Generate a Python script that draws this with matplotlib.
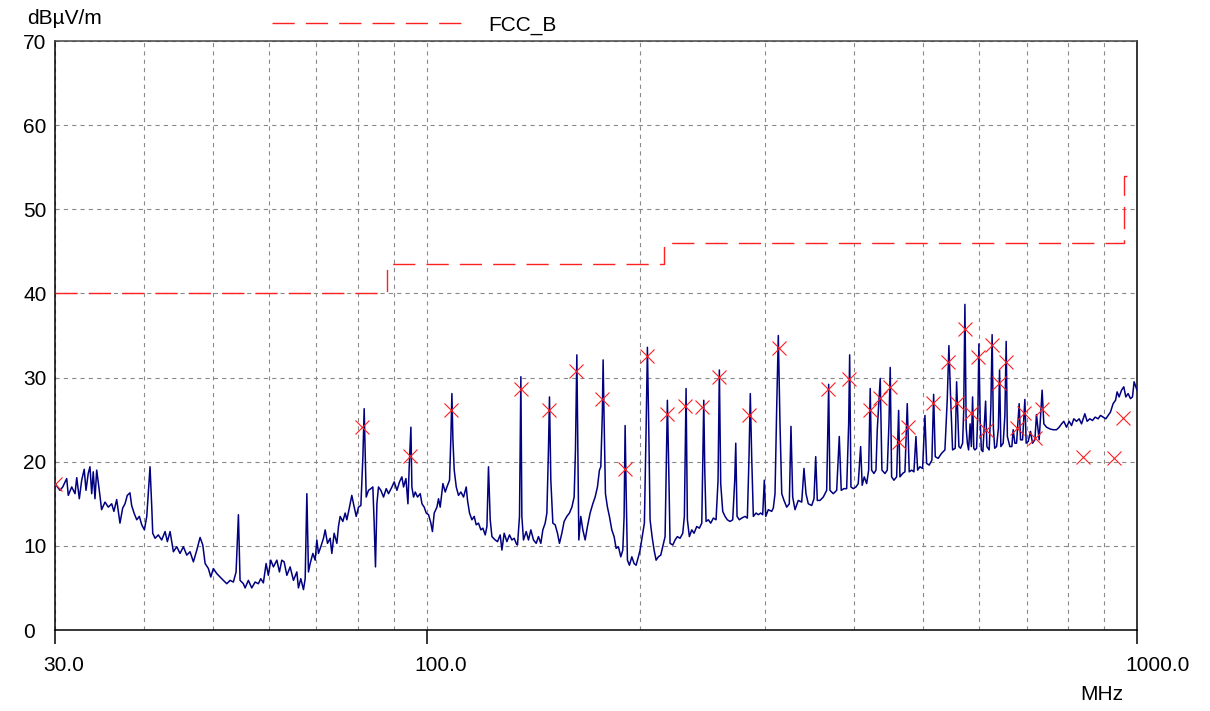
import numpy as np
import matplotlib
matplotlib.use("Agg")
import matplotlib.pyplot as plt
import matplotlib.transforms as mtransforms

plt.rcParams['font.family'] = ['Liberation Sans', 'DejaVu Sans']
plt.rcParams['lines.scale_dashes'] = False

# measured trace (MHz, dBuV/m)
trace_freq = [
    30.00, 30.49, 30.76, 31.16, 31.32, 31.67, 32.01, 32.19, 32.46, 32.71, 32.98, 33.17, 33.41, 33.60,
    33.79, 33.96, 34.15, 34.34, 34.63, 34.89, 35.28, 35.66, 36.05, 36.31, 36.64, 37.03, 37.36, 37.64,
    37.92, 38.25, 38.46, 38.76, 39.10, 39.43, 39.74, 40.08, 40.39, 40.65, 40.82, 41.05, 41.18, 41.49,
    41.93, 42.39, 42.86, 43.18, 43.56, 44.03, 44.51, 44.99, 45.48, 45.98, 46.47, 46.98, 47.50, 48.01,
    48.43, 48.80, 49.32, 49.70, 50.12, 50.68, 51.22, 51.77, 52.35, 52.91, 53.48, 53.95, 54.36, 54.65,
    55.24, 55.55, 56.14, 56.76, 57.38, 57.99, 58.44, 58.94, 59.46, 59.90, 60.37, 60.89, 61.57, 62.09,
    62.56, 63.04, 63.60, 64.28, 64.97, 65.69, 66.03, 66.54, 67.12, 67.49, 67.86, 68.21, 68.59, 69.19,
    69.71, 70.09, 70.46, 71.00, 71.61, 72.01, 72.55, 73.18, 73.58, 74.13, 74.79, 75.18, 75.59, 76.25,
    76.83, 77.25, 77.91, 78.50, 78.93, 79.63, 80.22, 80.84, 81.37, 81.71, 81.98, 82.25, 82.86, 83.50,
    84.04, 84.40, 84.76, 85.15, 85.59, 86.25, 87.00, 87.76, 88.42, 89.40, 90.06, 90.86, 91.62, 92.33,
    92.83, 93.55, 94.16, 94.55, 95.07, 95.37, 95.89, 96.42, 97.14, 97.99, 98.54, 99.26, 99.91, 100.66,
    101.43, 101.94, 102.53, 103.44, 103.97, 104.54, 105.46, 106.26, 106.84, 107.75, 108.23, 108.58,
    108.94, 109.40, 110.12, 110.93, 111.79, 112.75, 113.74, 114.22, 114.96, 115.86, 116.71, 117.48,
    118.35, 119.27, 120.05, 120.96, 121.63, 122.25, 122.93, 123.62, 124.94, 125.88, 126.97, 127.69,
    128.62, 129.76, 130.86, 131.86, 132.86, 133.73, 134.30, 135.17, 135.77, 136.21, 136.93, 138.14,
    139.16, 140.24, 141.44, 142.68, 143.74, 144.85, 145.80, 146.90, 147.71, 148.47, 148.96, 149.62,
    150.60, 151.74, 152.88, 153.86, 155.05, 156.21, 157.59, 158.92, 160.18, 161.36, 162.05, 162.78,
    163.31, 163.83, 164.88, 165.97, 167.22, 168.47, 169.94, 171.42, 172.72, 174.02, 175.14, 175.92,
    176.80, 177.25, 177.82, 178.59, 179.75, 180.91, 182.30, 183.67, 184.88, 186.25, 187.69, 188.92,
    189.72, 190.35, 190.97, 191.78, 193.01, 194.54, 195.96, 197.25, 198.71, 199.80, 201.56, 202.61,
    203.74, 204.60, 205.52, 206.38, 207.72, 209.09, 210.45, 212.01, 213.65, 215.05, 216.67, 217.58,
    218.29, 219.27, 220.19, 222.12, 223.80, 225.48, 227.44, 229.44, 230.64, 231.92, 232.90, 234.41,
    236.26, 237.99, 240.09, 242.12, 244.03, 244.79, 245.60, 246.40, 247.44, 249.28, 251.20, 253.36,
    255.59, 257.24, 258.33, 259.47, 261.17, 263.14, 265.11, 267.42, 269.77, 271.54, 272.43, 273.58,
    275.61, 277.72, 280.75, 282.86, 284.40, 285.58, 286.87, 288.41, 290.94, 293.10, 295.37, 297.29,
    298.85, 300.22, 302.75, 306.06, 307.70, 309.40, 311.10, 312.71, 314.43, 316.21, 318.54, 321.35,
    324.06, 325.82, 327.65, 330.11, 333.64, 337.37, 339.84, 342.08, 344.62, 348.47, 351.04, 353.01,
    354.84, 357.92, 361.79, 365.79, 368.16, 369.70, 373.70, 377.84, 381.03, 383.47, 386.86, 390.27,
    392.80, 394.08, 395.71, 398.71, 402.21, 405.20, 408.33, 410.41, 413.16, 416.39, 419.08, 421.23,
    423.14, 426.33, 429.13, 430.95, 435.10, 437.50, 441.83, 445.14, 447.57, 449.43, 451.46, 454.86,
    458.88, 461.85, 463.79, 467.85, 471.39, 474.93, 477.99, 481.76, 485.30, 488.49, 491.19, 494.82,
    499.17, 502.94, 505.71, 509.98, 514.44, 517.32, 520.02, 525.06, 530.80, 536.60, 540.62, 543.58,
    546.53, 550.10, 554.81, 557.31, 561.47, 564.51, 568.22, 570.28, 572.51, 574.92, 577.15, 579.38,
    582.19, 584.59, 586.92, 589.22, 591.35, 594.60, 597.15, 599.04, 601.52, 603.83, 606.85, 612.22,
    614.79, 619.37, 622.73, 625.30, 627.84, 630.55, 634.40, 638.12, 640.58, 643.23, 648.12, 651.70,
    654.44, 656.98, 662.29, 666.59, 669.45, 673.15, 676.85, 682.57, 685.60, 690.10, 695.31, 698.23,
    702.75, 708.17, 712.81, 718.20, 722.00, 728.25, 735.32, 739.39, 745.92, 753.90, 762.05, 770.47,
    776.99, 783.12, 788.88, 795.84, 802.57, 808.90, 814.84, 822.04, 828.99, 835.53, 844.46, 850.79,
    858.18, 865.72, 873.13, 881.59, 888.40, 896.01, 903.90, 910.61, 917.64, 925.51, 932.77, 937.61,
    943.66, 951.10, 958.09, 964.38, 971.55, 979.04, 985.46, 990.63, 1000.0]

trace_level = [
    17.4, 16.6, 17.0, 18.0, 16.0, 17.0, 16.2, 18.1, 15.6, 17.8, 19.1, 16.6, 18.6, 19.4,
    16.2, 18.8, 15.6, 19.0, 16.6, 14.3, 15.2, 14.6, 15.0, 14.1, 15.5, 12.7, 14.5, 15.0,
    16.0, 16.3, 14.8, 13.9, 13.1, 13.5, 12.5, 11.9, 13.5, 17.0, 19.4, 14.6, 11.5, 10.9,
    11.3, 10.7, 11.7, 10.5, 11.7, 9.3, 9.9, 9.1, 9.9, 8.9, 9.3, 8.1, 9.5, 11.0,
    10.1, 7.9, 7.3, 6.3, 7.3, 6.7, 6.3, 5.9, 5.5, 5.9, 5.7, 6.9, 13.7, 5.9,
    5.5, 5.0, 5.9, 5.0, 5.7, 5.5, 6.1, 5.6, 7.9, 6.5, 8.3, 7.5, 8.3, 6.9,
    8.3, 8.1, 6.5, 7.5, 5.9, 6.9, 5.0, 6.1, 4.8, 6.1, 16.2, 6.9, 7.9, 9.1,
    8.3, 10.7, 9.1, 9.9, 10.9, 11.9, 10.3, 10.9, 9.1, 11.5, 10.3, 12.3, 13.5, 12.9,
    13.9, 13.1, 14.6, 16.0, 15.0, 13.5, 14.6, 14.8, 20.6, 26.3, 21.2, 15.8, 16.6, 16.8,
    17.0, 12.7, 7.5, 15.0, 17.0, 16.6, 15.8, 16.8, 16.2, 17.0, 17.6, 16.6, 17.6, 18.2,
    17.0, 18.0, 15.0, 19.4, 24.1, 17.0, 15.8, 16.4, 15.8, 16.2, 15.0, 14.6, 13.9, 13.7,
    12.7, 11.7, 13.9, 14.6, 15.6, 14.6, 17.4, 16.4, 17.0, 17.8, 23.0, 28.1,
    22.6, 19.0, 17.0, 16.0, 16.4, 15.8, 17.0, 15.4, 13.9, 13.1, 13.5, 12.5,
    12.7, 11.9, 12.1, 11.3, 12.3, 19.4, 13.1, 11.1, 10.7, 10.5, 11.3, 9.5,
    11.5, 10.5, 11.3, 10.7, 10.9, 10.3, 10.1, 13.5, 30.1, 13.5, 10.7, 11.7,
    10.7, 11.9, 10.7, 10.3, 11.1, 10.3, 11.9, 12.7, 13.9, 21.4, 27.7, 17.8,
    12.7, 12.5, 11.5, 10.3, 11.5, 12.9, 13.5, 13.9, 14.6, 15.8, 21.4, 32.7,
    21.4, 10.7, 13.5, 11.9, 10.7, 12.3, 13.9, 15.0, 15.8, 17.0, 19.0, 19.4,
    25.7, 32.1, 24.9, 16.2, 14.6, 13.5, 11.9, 11.1, 9.7, 9.9, 8.7, 9.5,
    13.5, 24.3, 16.6, 8.3, 7.7, 8.7, 7.9, 7.7, 8.7, 9.5, 11.5, 12.7,
    23.8, 33.6, 23.8, 13.1, 11.1, 9.5, 8.3, 8.7, 8.9, 9.9, 11.1, 19.8,
    27.3, 19.0, 10.3, 10.1, 10.7, 11.1, 10.9, 11.5, 13.5, 28.7, 13.1, 11.1,
    11.9, 11.5, 12.3, 12.1, 12.7, 19.8, 27.3, 19.0, 12.9, 13.1, 12.7, 13.3,
    13.1, 17.8, 30.9, 17.4, 14.1, 13.5, 13.1, 12.9, 13.1, 17.8, 22.2, 13.5,
    13.1, 13.3, 13.5, 13.3, 20.6, 28.1, 20.6, 13.5, 13.9, 13.7, 13.9, 13.7,
    17.8, 13.5, 14.3, 14.1, 14.5, 16.2, 26.5, 35.0, 24.5, 16.2, 15.4, 14.6,
    15.0, 24.2, 15.8, 14.3, 15.4, 15.2, 19.2, 16.2, 15.0, 14.8, 15.6, 20.6,
    15.4, 15.4, 15.8, 16.6, 29.2, 16.6, 16.2, 16.6, 23.0, 16.6, 16.8, 16.8,
    24.5, 32.7, 17.0, 16.8, 17.0, 17.4, 21.8, 17.2, 18.2, 17.4, 19.0, 28.7,
    19.0, 18.6, 19.0, 23.8, 29.9, 19.0, 18.6, 19.0, 24.5, 31.2, 18.2, 17.8,
    18.2, 26.1, 18.2, 18.6, 18.8, 26.9, 18.8, 19.0, 18.8, 23.0, 19.0, 19.4,
    19.2, 25.5, 19.8, 19.6, 20.2, 28.0, 20.6, 20.4, 21.0, 21.4, 27.3, 33.8,
    27.7, 21.4, 21.6, 29.5, 21.8, 21.6, 22.2, 26.0, 38.7, 24.0, 22.2, 21.4,
    24.5, 21.8, 27.7, 21.6, 21.4, 21.6, 26.0, 34.0, 25.0, 21.4, 21.2, 27.2,
    21.8, 21.4, 26.5, 35.1, 24.0, 21.6, 21.8, 24.0, 30.9, 21.8, 22.2, 25.5,
    34.3, 23.0, 21.8, 21.8, 23.8, 22.2, 22.2, 26.9, 22.6, 22.6, 27.4, 22.2,
    22.4, 23.6, 22.2, 22.6, 25.6, 22.6, 28.5, 24.5, 24.1, 23.9, 23.8, 23.8,
    24.1, 24.5, 24.8, 24.1, 24.8, 24.3, 25.1, 24.8, 25.1, 24.5, 25.7, 24.8,
    25.1, 24.9, 25.3, 25.1, 25.5, 25.3, 25.1, 25.5, 25.9, 26.9, 27.3, 28.3,
    27.7, 28.5, 28.9, 27.7, 28.1, 27.5, 27.7, 29.5, 28.5]

# final measurement points (x markers)
mark_freq = [30.0, 81.25, 94.86, 108.33, 135.77, 148.96, 162.57, 176.67, 190.35, 204.20,
             217.86, 231.17, 244.47, 258.07, 284.68, 313.11, 367.68, 393.19, 421.23, 434.69,
             449.01, 461.85, 475.54, 516.63, 542.34, 557.31, 572.51, 583.10, 597.68, 612.22,
             624.78, 639.13, 653.20, 678.20, 693.05, 718.20, 733.90, 839.80, 928.52, 955.95]
mark_level = [17.4, 24.1, 20.7, 26.2, 28.7, 26.2, 30.8, 27.4, 19.1, 32.6,
              25.7, 26.6, 26.5, 30.1, 25.5, 33.5, 28.7, 29.8, 26.2, 27.6,
              28.9, 22.3, 24.1, 27.0, 31.9, 27.0, 35.8, 25.8, 32.5, 23.8,
              33.9, 29.3, 31.9, 24.0, 25.8, 22.8, 26.3, 20.6, 20.5, 25.2]

# FCC class B limit
limit_freq = [30, 88, 216, 960, 1000]
limit_level = [40, 43.5, 46, 54, 54]

x_major = [30, 100, 1000]
x_major_labels = ['30.0', '100.0', '1000.0']
x_minor = [40, 50, 60, 70, 80, 90, 200, 300, 400, 500, 600, 700, 800, 900]
y_ticks = [0, 10, 20, 30, 40, 50, 60, 70]

fig = plt.figure(figsize=(12.1, 7.11), dpi=100)
ax = fig.add_axes([55 / 1210, 81 / 711, 1082 / 1210, 589 / 711])

ax.set_xscale('log')
ax.set_xlim(30, 1000)
ax.set_ylim(0, 70)

ax.plot(trace_freq, trace_level, color='#000080', lw=1.1, zorder=3)
lim_line, = ax.step(limit_freq, limit_level, where='post', color='#ff2020', lw=1.0,
                    linestyle=(0, (16, 8)), zorder=4, label='FCC_B')
ax.plot(mark_freq, mark_level, linestyle='none', marker='x', color='#ff2020',
        markersize=9.5, markeredgewidth=0.8, zorder=5)

ax.set_xticks(x_major)
ax.set_xticklabels(x_major_labels)
ax.set_xticks(x_minor, minor=True)
ax.set_xticklabels([], minor=True)
ax.set_yticks(y_ticks)

ax.grid(True, which='both', color='#8a8a8a', lw=0.8, linestyle=(0, (3, 3)), zorder=0)
ax.set_axisbelow(True)

for s in ['left', 'bottom', 'right']:
    ax.spines[s].set_color('black')
    ax.spines[s].set_linewidth(1.1)
ax.spines['top'].set_color('#444444')
ax.spines['top'].set_linewidth(1.1)

ax.tick_params(axis='x', which='major', length=10, width=1.1, direction='out', pad=9,
               labelsize=15, colors='black')
ax.tick_params(axis='x', which='minor', length=0)
ax.tick_params(axis='y', length=0, pad=23, labelsize=15)

# tick labels sit slightly right of their tick, left aligned
offset = mtransforms.ScaledTranslation(-12 / 100, 0, fig.dpi_scale_trans)
for lab in ax.get_xticklabels():
    lab.set_horizontalalignment('left')
    lab.set_transform(lab.get_transform() + offset)
for lab in ax.get_yticklabels():
    lab.set_horizontalalignment('left')

fig.text(27 / 1210, 1 - 18 / 711, 'dBµV/m', fontsize=15, va='center', ha='left')
fig.text(1080 / 1210, 1 - 694 / 711, 'MHz', fontsize=15, va='center', ha='left')

ax.legend(handles=[lim_line], loc='center left', bbox_to_anchor=(272 / 1210, 1 - 25 / 711),
          bbox_transform=fig.transFigure, frameon=False, fontsize=15,
          handlelength=9.3, handletextpad=1.1, borderpad=0, borderaxespad=0)

fig.savefig('out.png', dpi=100)
